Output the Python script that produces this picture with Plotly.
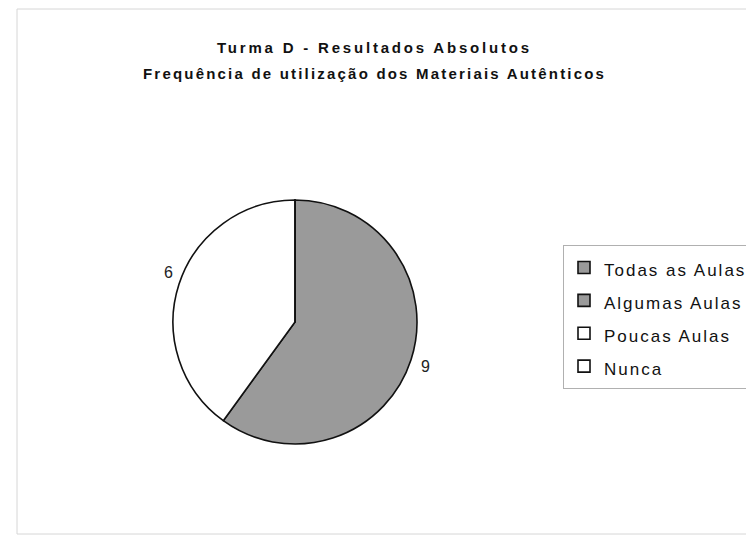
import plotly.graph_objects as go

categories = ["Todas as Aulas", "Algumas Aulas", "Poucas Aulas", "Nunca"]
values = [0, 9, 6, 0]
colors = ["#9a9a9a", "#9a9a9a", "#ffffff", "#ffffff"]
title_lines = ["Turma D - Resultados Absolutos",
               "Frequência de utilização dos Materiais Autênticos"]

# browser body margin is 8px, so the figure is drawn 8px smaller
OFF = 8
W, H = 754 - OFF, 537 - OFF


def px(x):
    return (x - OFF) / W


def py(y):
    return 1 - (y - OFF) / H


FONT = "Liberation Sans, Arial, sans-serif"


def spaced(text, ls, size=None):
    style = "letter-spacing:%spx" % ls
    if size:
        style += ";font-size:%spx" % size
    return '<span style="%s">%s</span>' % (style, text)


fig = go.Figure(go.Pie(
    labels=[spaced(c, 2.0, 17) for c in categories],
    values=values,
    sort=False,
    direction="clockwise",
    rotation=0,
    marker=dict(colors=colors, line=dict(color="#111111", width=1.6)),
    textinfo="none",
    hoverinfo="label+value",
    domain=dict(x=[px(173), px(417)], y=[py(444), py(200)]),
    showlegend=True,
))

annotations = []
label_pos = {1: (425, 366), 2: (168, 272)}
for i, (x, y) in label_pos.items():
    annotations.append(dict(
        x=px(x), y=py(y), xref="paper", yref="paper",
        xanchor="center", yanchor="middle",
        text=str(values[i]), showarrow=False,
        font=dict(family=FONT, size=16, color="#222222"),
    ))

for line, ycen, ls in zip(title_lines, [47, 74], [2.8, 2.2]):
    annotations.append(dict(
        x=px(374), y=py(ycen), xref="paper", yref="paper",
        xanchor="center", yanchor="middle",
        text="<b>" + spaced(line, ls) + "</b>", showarrow=False,
        font=dict(family=FONT, size=15, color="#111111"),
    ))

fig.update_layout(
    width=W, height=H,
    margin=dict(l=0, r=0, t=0, b=0, autoexpand=False),
    paper_bgcolor="white",
    plot_bgcolor="white",
    annotations=annotations,
    legend=dict(
        x=px(563), y=py(245), xanchor="left", yanchor="top",
        bgcolor="white", bordercolor="#b0b0b0", borderwidth=1,
        font=dict(family=FONT, size=23, color="#111111"),
        tracegroupgap=0,
    ),
    shapes=[dict(
        type="rect", xref="paper", yref="paper",
        x0=px(17), x1=1.05, y0=py(534), y1=py(9),
        line=dict(color="#d6d6d6", width=1),
    )],
)

fig.write_html("out.html")
